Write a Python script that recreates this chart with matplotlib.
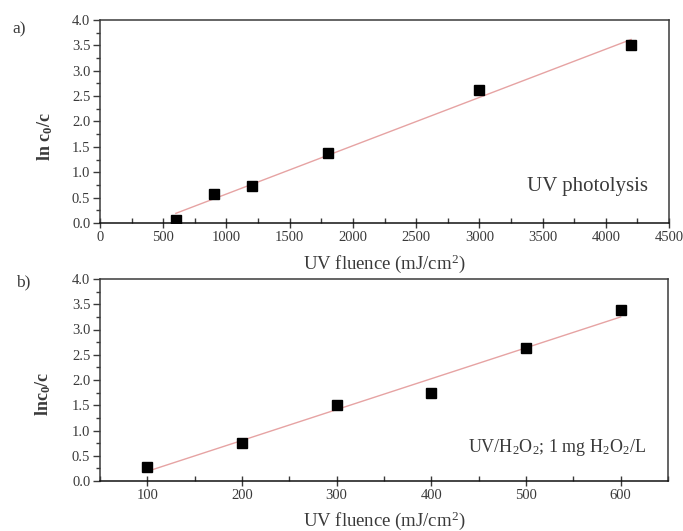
import numpy as np
import matplotlib
matplotlib.use("Agg")
import matplotlib.pyplot as plt
from matplotlib.ticker import MultipleLocator

plt.rcParams['font.family'] = ['Liberation Serif', 'DejaVu Serif']
plt.rcParams['mathtext.fontset'] = 'custom'
plt.rcParams['mathtext.rm'] = 'Liberation Serif'
plt.rcParams['mathtext.it'] = 'Liberation Serif:italic'
plt.rcParams['mathtext.bf'] = 'Liberation Serif:bold'

# Panel a) UV photolysis
fluence_a = [600, 900, 1200, 1800, 3000, 4200]
lnc_a = [0.05, 0.57, 0.73, 1.38, 2.62, 3.50]
# Panel b) UV/H2O2
fluence_b = [100, 200, 300, 400, 500, 600]
lnc_b = [0.28, 0.76, 1.51, 1.75, 2.63, 3.39]

xticks_a = [0, 500, 1000, 1500, 2000, 2500, 3000, 3500, 4000, 4500]
xticks_b = [100, 200, 300, 400, 500, 600]
yticks = [0.0, 0.5, 1.0, 1.5, 2.0, 2.5, 3.0, 3.5, 4.0]

TXT = '#3a3a3a'
LINE = '#e6a3a3'

fig = plt.figure(figsize=(6.83, 5.31), dpi=100)
ax1 = fig.add_axes([100/683, 1-223/531, 569/683, 203/531])
ax2 = fig.add_axes([100/683, 1-481/531, 568/683, 202/531])

def style(ax, xticks, xminor, xlim):
    ax.set_xlim(*xlim)
    ax.set_ylim(0, 4.0)
    ax.set_xticks(xticks)
    ax.set_yticks(yticks)
    ax.set_yticklabels([f"{v:.1f}" for v in yticks])
    ax.xaxis.set_minor_locator(MultipleLocator(xminor))
    ax.yaxis.set_minor_locator(MultipleLocator(0.25))
    ax.tick_params(axis='x', which='major', direction='inout', length=7, width=1, colors=TXT, labelsize=10.5, pad=2)
    ax.tick_params(axis='x', which='minor', direction='in', length=3.5, width=1, colors=TXT)
    ax.tick_params(axis='y', which='major', direction='out', length=5, width=1, colors=TXT, labelsize=10.5, pad=2)
    ax.tick_params(axis='y', which='minor', direction='out', length=3, width=1, colors=TXT)
    for s in ax.spines.values():
        s.set_color(TXT)
        s.set_linewidth(1.1)
    ax.spines['bottom'].set_color('#111111')

def fit_line(ax, x, y):
    x = np.asarray(x, float)
    y = np.asarray(y, float)
    k, b = np.polyfit(x, y, 1)
    xs = np.array([x.min(), x.max()])
    ax.plot(xs, k*xs + b, color=LINE, lw=1.0, zorder=2)
    ax.plot(x, y, 's', color='black', ms=7, zorder=3)

style(ax1, xticks_a, 250, (0, 4500))
fit_line(ax1, fluence_a, lnc_a)
xl = ax1.set_xlabel(r"UV fluence (mJ/cm$^2$)", fontsize=13.5, color=TXT, va='center')
ax1.xaxis.set_label_coords(0.5, (223-264)/203)
ax1.set_ylabel(r"$\mathbf{ln\ c_0/c}$", fontsize=13, color=TXT, va='center')
ax1.yaxis.set_label_coords((45-100)/569, (223-137)/203)
ax1.text(4330, 0.72, "UV photolysis", ha='right', va='center', fontsize=15, color=TXT)
fig.text(12/683, 1-29/531, "a)", fontsize=12.5, color=TXT, ha='left', va='center')

style(ax2, xticks_b, 50, (50, 650))
fit_line(ax2, fluence_b, lnc_b)
ax2.set_xlabel(r"UV fluence (mJ/cm$^2$)", fontsize=13.5, color=TXT, va='center')
ax2.xaxis.set_label_coords(0.5, (481-521)/202)
ax2.set_ylabel(r"$\mathbf{lnc_0/c}$", fontsize=13, color=TXT, va='center')
ax2.yaxis.set_label_coords((43-100)/568, (481-394)/202)
ax2.text(627, 0.67, r"UV/H$_2$O$_2$; 1 mg H$_2$O$_2$/L", ha='right', va='center', fontsize=13, color=TXT)
fig.text(16/683, 1-282/531, "b)", fontsize=12.5, color=TXT, ha='left', va='center')

fig.savefig("out.png", dpi=100)
